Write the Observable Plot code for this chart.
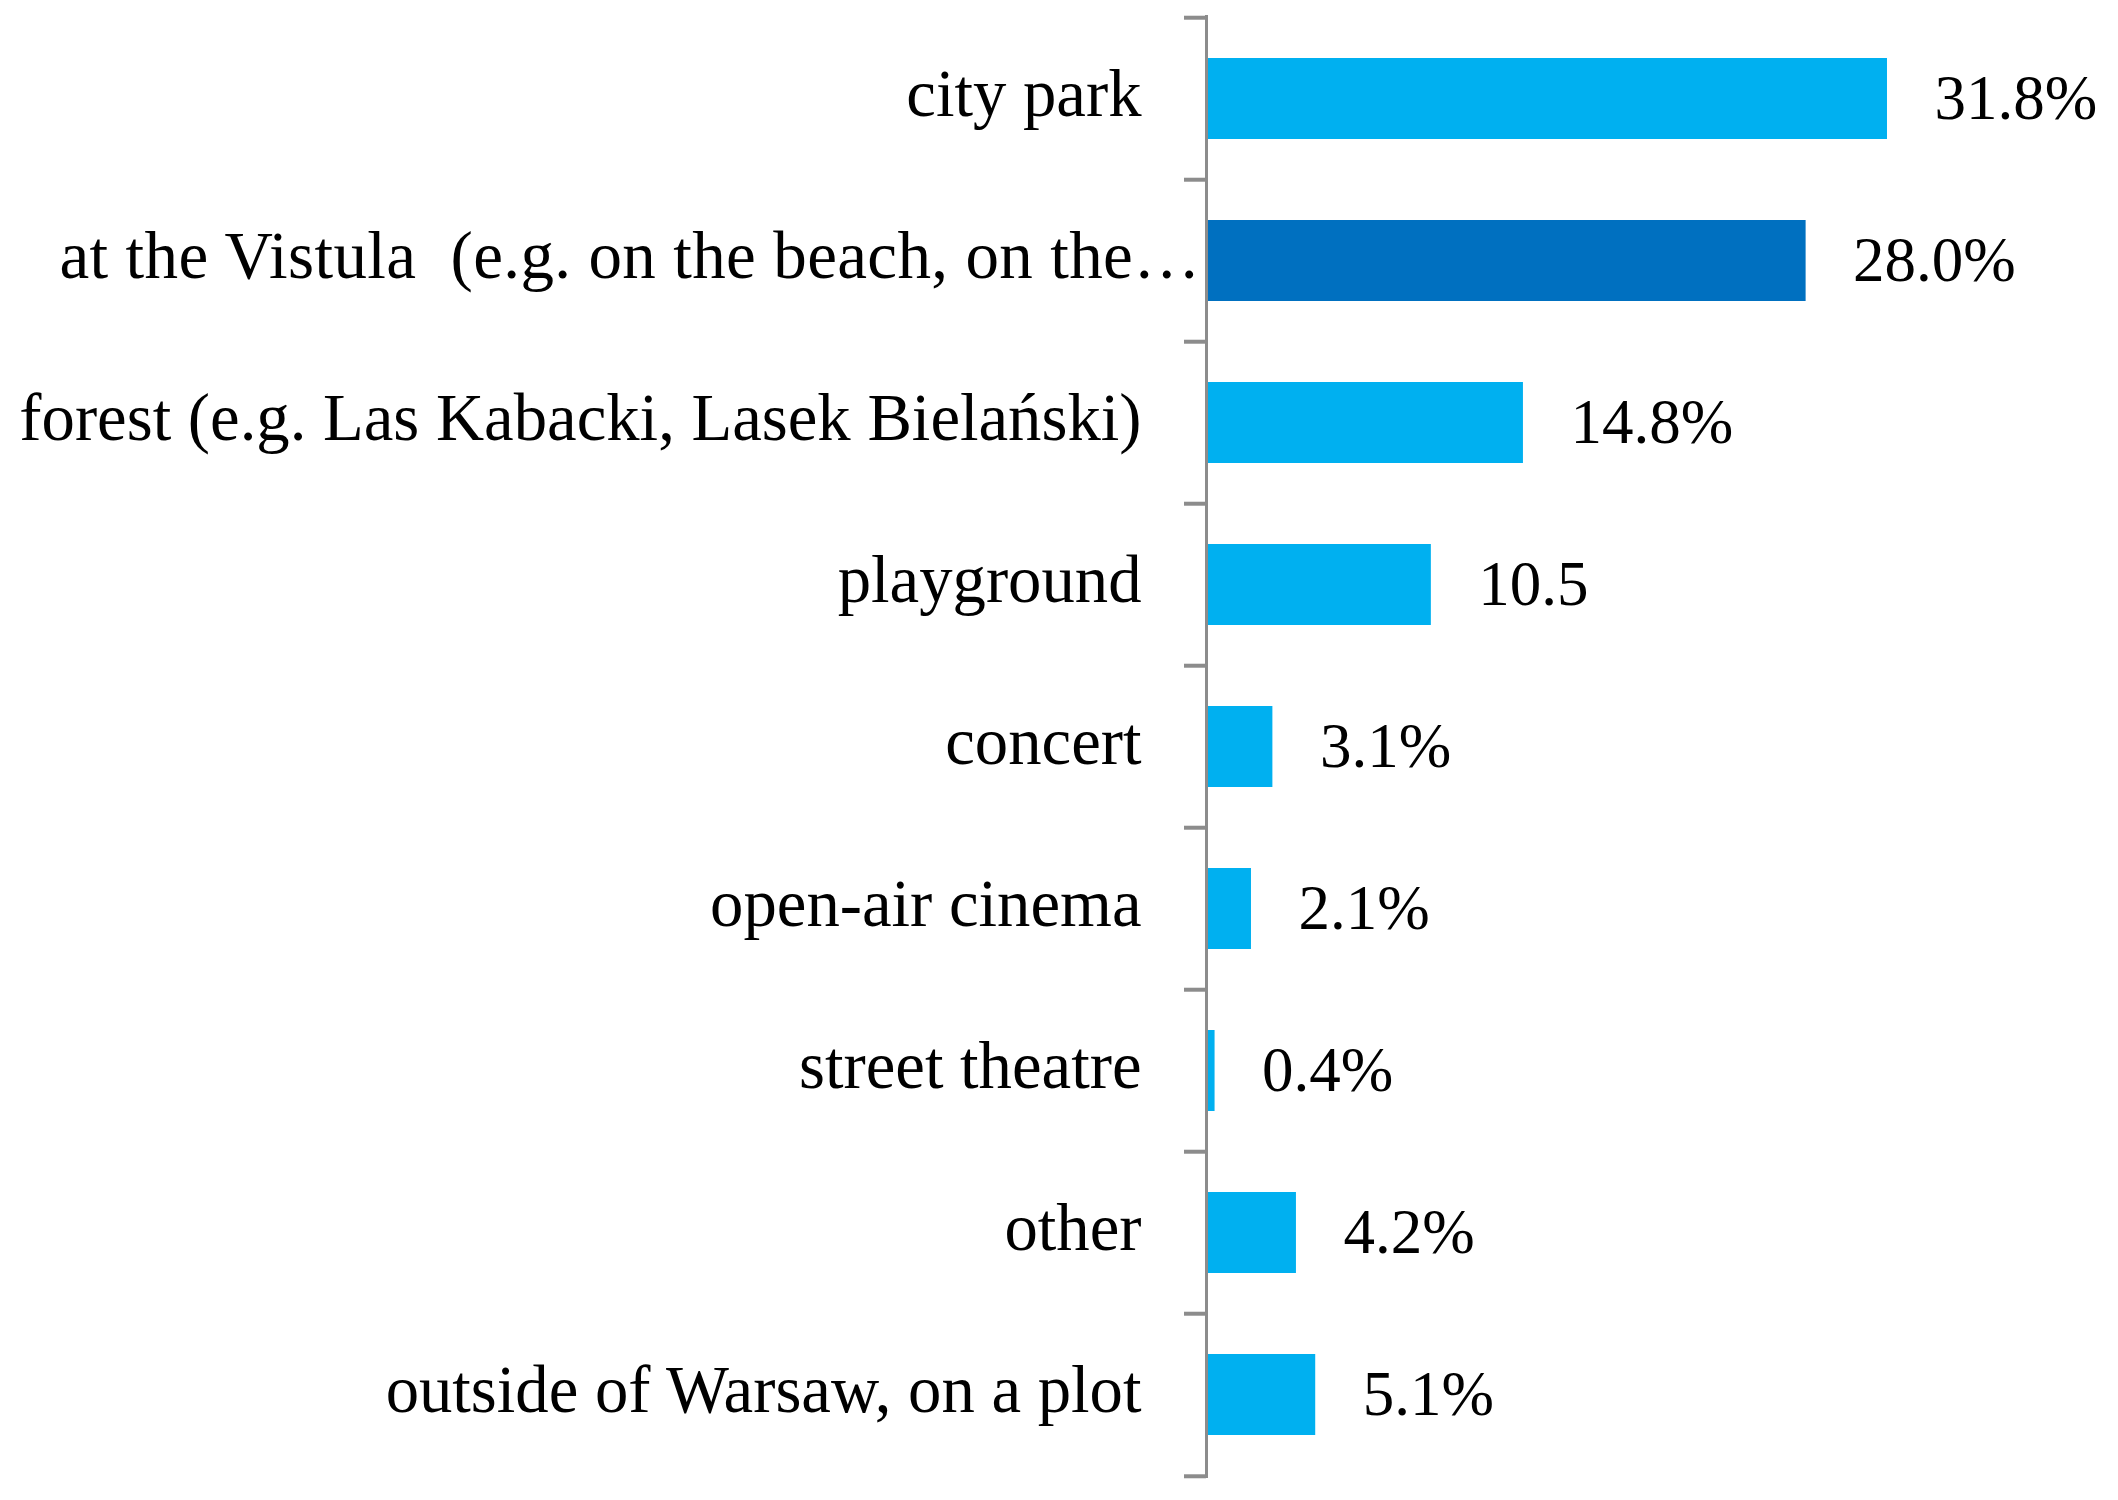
<!DOCTYPE html>
<html>
<head>
<meta charset="utf-8">
<script src="https://cdn.jsdelivr.net/npm/d3@7"></script>
<script src="https://cdn.jsdelivr.net/npm/@observablehq/plot@0.6"></script>
<style>
  html, body { margin: 0; padding: 0; background: #fff; }
  svg text { white-space: pre; }
</style>
</head>
<body>
<div id="chart"></div>
<script>
const categories = [
  "city park",
  "at the Vistula  (e.g. on the beach, on the\u2026",
  "forest (e.g. Las Kabacki, Lasek Bielański)",
  "playground",
  "concert",
  "open-air cinema",
  "street theatre",
  "other",
  "outside of Warsaw, on a plot"
];
const values = [31.8, 28.0, 14.8, 10.5, 3.1, 2.1, 0.4, 4.2, 5.1];
const valueLabels = ["31.8%", "28.0%", "14.8%", "10.5", "3.1%", "2.1%", "0.4%", "4.2%", "5.1%"];
const highlighted = "at the Vistula  (e.g. on the beach, on the\u2026";
const lightBlue = "#00B0F0";
const darkBlue = "#0070C0";

const data = categories.map((c, i) => ({category: c, value: values[i], label: valueLabels[i]}));

const W = 2118, H = 1500;
const marginTop = 15, marginBottom = 22;
const step = (H - marginTop - marginBottom) / categories.length;
const lastCat = categories[categories.length - 1];

const chart = Plot.plot({
  width: W,
  height: H,
  marginLeft: 1206,
  marginRight: 34,
  marginTop,
  marginBottom,
  x: {domain: [0, 41], axis: null},
  y: {domain: categories, axis: null, paddingInner: 0.5, paddingOuter: 0.25},
  style: {fontFamily: "'Liberation Serif', serif", background: "#fff"},
  marks: [
    Plot.barX(data, {
      y: "category",
      x: "value",
      fill: d => d.category === highlighted ? darkBlue : lightBlue
    }),
    Plot.ruleX([0], {stroke: "#8c8c8c", strokeWidth: 3}),
    Plot.ruleY(categories, {y: d => d, x1: 0, x2: 0, insetLeft: -22, dy: -step / 2, stroke: "#8c8c8c", strokeWidth: 4}),
    Plot.ruleY([lastCat], {y: d => d, x1: 0, x2: 0, insetLeft: -22, dy: step / 2, stroke: "#8c8c8c", strokeWidth: 4}),
    Plot.text(data.filter(d => d.category !== highlighted), {
      y: "category", x: 0, text: "category", textAnchor: "end", dx: -65, dy: -4,
      fontSize: 66.7, fill: "#000"
    }),
    Plot.text(data.filter(d => d.category === highlighted), {
      y: "category", x: 0, text: "category", textAnchor: "end", dx: -6, dy: -4,
      fontSize: 67, fill: "#000"
    }),
    Plot.text(data, {
      y: "category", x: "value", text: "label", textAnchor: "start", dx: 47,
      fontSize: 63, fill: "#000"
    })
  ]
});
chart.querySelectorAll("text").forEach(t => {
  if (t.textContent === highlighted) t.style.letterSpacing = "0.35px";
});
document.getElementById("chart").appendChild(chart);
</script>
</body>
</html>
